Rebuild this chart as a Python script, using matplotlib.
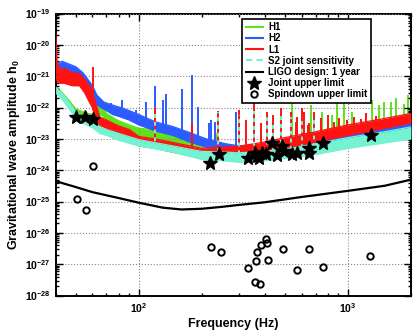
import numpy as np
import matplotlib
matplotlib.use('Agg')
import matplotlib.pyplot as plt
from matplotlib.lines import Line2D
from matplotlib.ticker import FixedLocator, FixedFormatter, LogLocator, NullFormatter

plt.rcParams['font.family'] = ['Liberation Sans', 'DejaVu Sans']
plt.rcParams['font.weight'] = 'bold'
plt.rcParams['mathtext.fontset'] = 'custom'
plt.rcParams['mathtext.rm'] = 'Liberation Sans:bold'
plt.rcParams['mathtext.it'] = 'Liberation Sans:bold'
plt.rcParams['mathtext.bf'] = 'Liberation Sans:bold'
plt.rcParams['mathtext.sf'] = 'Liberation Sans:bold'

# ---------------- data ----------------
# L1 (red) noise band
l1_f  = [40, 40.6, 42, 44, 48, 52, 55, 58, 60, 62, 65, 70, 80, 90, 100, 120, 150, 200, 250, 300, 400, 500, 700, 1000, 1500, 2000]
l1_lo = [1.5e-21, 7e-22, 6e-22, 6e-22, 5e-22, 5e-22, 3e-22, 1.5e-22, 1e-22, 4e-23, 2.5e-23, 2e-23, 1.4e-23, 1.1e-23, 6e-24,
         5e-24, 3.6e-24, 2.5e-24, 2.7e-24, 2.8e-24, 3.6e-24, 5e-24, 8e-24, 1.3e-23, 2.2e-23, 3.2e-23]
l1_hi = [2.5e-20, 3e-21, 1.6e-21, 1.8e-21, 1.3e-21, 1.2e-21, 8e-22, 5e-22, 3e-22, 1.5e-22, 5e-23, 4e-23, 2.6e-23, 2e-23, 1.2e-23,
         1e-23, 7.4e-24, 5e-24, 5.5e-24, 5.8e-24, 8e-24, 1.1e-23, 1.7e-23, 2.8e-23, 4.5e-23, 6.5e-23]
l1_spike_f = [60.4, 119, 180, 238, 302, 325, 355, 384, 412, 440, 477, 532, 564, 573, 606, 617, 641, 652, 688, 743,
              800, 855, 905, 990, 1067, 1150, 1220, 1370]
l1_spike_h = [2e-21, 1e-22, 3e-23, 8e-23, 8.4e-23, 4e-23, 1.37e-22, 3.2e-23, 7.4e-23, 6e-23, 9.5e-23, 7.4e-23, 3.5e-23,
              5.1e-23, 9.5e-23, 7.4e-23, 2.8e-23, 3.2e-23, 7e-23, 4.6e-23, 5.9e-23, 3.5e-23, 4.5e-23, 4e-23, 5e-23,
              4.2e-23, 6.6e-23, 5.5e-23]

# H2 (blue) noise band
h2_f  = [40, 43, 46, 50, 54, 57, 60, 63, 68, 75, 82, 90, 100, 120, 145, 175, 210, 260, 300, 400, 500, 700, 1000, 1500, 2000]
h2_lo = [1.2e-21, 1.8e-21, 1.3e-21, 1e-21, 6e-22, 4e-22, 2e-22, 1.2e-22, 9e-23, 6e-23, 5e-23, 4e-23, 2.8e-23, 1.8e-23,
         1.3e-23, 8e-24, 5.5e-24, 4.2e-24, 3.5e-24, 3.5e-24, 4.5e-24, 7e-24, 1e-23, 1.6e-23, 2.2e-23]
h2_hi = [2.5e-21, 3e-21, 2.5e-21, 2e-21, 1.3e-21, 8e-22, 5e-22, 2.5e-22, 1.5e-22, 1.2e-22, 1e-22, 8e-23, 6e-23, 3.5e-23,
         2.5e-23, 1.6e-23, 1e-23, 7e-24, 6e-24, 6.5e-24, 8.5e-24, 1.3e-23, 2e-23, 3.2e-23, 4.2e-23]
h2_spike_f = [73.5, 83, 97, 108, 119, 130, 135, 161, 180, 191, 217, 221, 231, 291, 302]
h2_spike_h = [1.4e-22, 1.75e-22, 8.4e-23, 1.5e-22, 4.9e-22, 1.8e-22, 2.8e-22, 3.8e-22, 1.1e-21, 1.06e-22, 3.2e-23,
              4e-23, 3.5e-23, 7.4e-23, 3.5e-23]

# H1 (green) noise band
h1_f  = [40, 43, 46, 50, 55, 60, 63, 66, 70, 80, 90, 100, 125, 150, 200, 250, 300, 400, 500, 700, 1000, 1500, 2000]
h1_lo = [3.5e-22, 2e-22, 1.2e-22, 5.5e-23, 4e-23, 3.5e-23, 5e-23, 6e-23, 4e-23, 2.2e-23, 1.7e-23, 1.3e-23, 1e-23, 7e-24,
         5.5e-24, 4e-24, 3.5e-24, 4e-24, 4.5e-24, 7e-24, 1.1e-23, 1.8e-23, 2.6e-23]
h1_hi = [5e-22, 3e-22, 1.8e-22, 9e-23, 7e-23, 6e-23, 1e-22, 1.2e-22, 6.5e-23, 3.8e-23, 2.8e-23, 2.2e-23, 1.9e-23, 1.3e-23,
         1e-23, 7e-24, 6e-24, 7e-24, 9e-24, 1.4e-23, 2.2e-23, 3.6e-23, 5e-23]
h1_spike_f = [234, 436, 543, 664, 754, 841, 887, 957, 1049, 1305, 1405, 1485, 1599, 1690, 1849, 1930]
h1_spike_h = [1.5e-23, 3.5e-23, 1.8e-22, 1.2e-22, 7e-23, 6e-23, 1.4e-22, 1.5e-22, 7e-23, 1.7e-22, 1.2e-22, 1.5e-22,
              1.5e-22, 2e-22, 1.3e-22, 2.5e-22]

# S2 joint sensitivity (cyan) band
s2_f  = [40, 43, 46, 50, 55, 60, 65, 70, 80, 100, 145, 200, 260, 300, 400, 530, 700, 1000, 1500, 2000]
s2_lo = [3e-22, 1.8e-22, 1e-22, 4.5e-23, 3e-23, 2.3e-23, 1.5e-23, 1.3e-23, 9e-24, 6e-24, 3.8e-24, 2.2e-24, 2e-24,
         1.8e-24, 2e-24, 2.5e-24, 3.2e-24, 5e-24, 7.5e-24, 1e-23]
s2_hi = [4.5e-22, 2.8e-22, 1.6e-22, 7e-23, 5e-23, 3.8e-23, 2.5e-23, 2e-23, 1.5e-23, 9.5e-24, 6e-24, 4e-24, 3.8e-24,
         3.6e-24, 4e-24, 5e-24, 7e-24, 1.1e-23, 1.7e-23, 2.4e-23]
s2_spike_f = [119, 238, 302, 355, 412, 436, 477, 532, 606, 688]
s2_spike_h = [8e-23, 7e-23, 6e-23, 8e-23, 5e-23, 3.5e-23, 6e-23, 5e-23, 5e-23, 4e-23]

# LIGO design sensitivity, 1 year
design_f = [40, 50, 60, 80, 100, 130, 160, 200, 250, 300, 400, 600, 1000, 1500, 2000]
design_h = [4.5e-25, 2.9e-25, 2.0e-25, 1.3e-25, 9.2e-26, 6.4e-26, 5.6e-26, 5.9e-26, 6.8e-26, 7.8e-26, 9.5e-26,
            1.4e-25, 2.2e-25, 3.2e-25, 5.0e-25]

# Joint upper limits (stars)
star_f = [50.3, 55.5, 60.4, 219.6, 240.6, 334, 360, 369, 376, 390, 405, 432, 457, 486, 495, 542, 573, 651, 651, 760, 1283]
star_h = [4.9e-23, 5.1e-23, 4.4e-23, 1.7e-24, 3.2e-24, 2.5e-24, 3.6e-24, 2.8e-24, 2.4e-24, 3.5e-24, 3.2e-24, 7.6e-24,
          3.1e-24, 5.9e-24, 4e-24, 3.2e-24, 3.5e-24, 5e-24, 3.6e-24, 7.2e-24, 1.33e-23]

# Spindown upper limits (circles)
circ_f = [60.4, 50.6, 55.7, 221, 246, 332, 360, 379, 364, 367, 386, 405, 412, 416, 490, 571, 654, 760, 1277]
circ_h = [1.39e-24, 1.17e-25, 5.2e-26, 3.6e-27, 2.4e-27, 7.4e-28, 2.7e-28, 2.27e-28, 1.23e-27, 2.45e-27, 4.1e-27,
          6.2e-27, 4.7e-27, 1.4e-27, 3.1e-27, 6.4e-28, 3.0e-27, 7.9e-28, 1.78e-27]

y_exponents = [-28, -27, -26, -25, -24, -23, -22, -21, -20, -19]
x_exponents = [2, 3]

labels = ['H1', 'H2', 'L1', 'S2 joint sensitivity', 'LIGO design: 1 year', 'Joint upper limit', 'Spindown upper limit']

c_h1, c_h2, c_l1, c_s2 = '#5ee21a', '#2c5cff', '#ff1212', '#74f2d2'

# ---------------- figure ----------------
fig = plt.figure(figsize=(4.15, 3.31), dpi=100)
ax = fig.add_axes([0.134, 0.107, 0.856, 0.852])
ax.set_xscale('log')
ax.set_yscale('log')


def band(f, lo, hi, color, z):
    ax.fill_between(f, lo, hi, color=color, lw=0, zorder=z)
    ax.plot(f, lo, color=color, lw=0.9, zorder=z)
    ax.plot(f, hi, color=color, lw=0.9, zorder=z)


def spikes(sf, sh, f, lo, color, z, ls='-'):
    base = 10 ** np.interp(np.log10(sf), np.log10(f), np.log10(lo))
    ax.vlines(sf, base, sh, colors=color, lw=1.4, zorder=z, linestyles=ls)


band(h1_f, h1_lo, h1_hi, c_h1, 2)
spikes(h1_spike_f, h1_spike_h, h1_f, h1_lo, c_h1, 2)
band(h2_f, h2_lo, h2_hi, c_h2, 3)
spikes(h2_spike_f, h2_spike_h, h2_f, h2_lo, c_h2, 3)
band(l1_f, l1_lo, l1_hi, c_l1, 4)
spikes(l1_spike_f, l1_spike_h, l1_f, l1_lo, c_l1, 4)
band(s2_f, s2_lo, s2_hi, c_s2, 5)
spikes(s2_spike_f, s2_spike_h, s2_f, s2_lo, c_s2, 5, ls=(0, (2, 2)))

ax.plot(design_f, design_h, color='black', lw=1.6, zorder=6)
ax.plot(star_f, star_h, ls='none', marker='*', ms=10, color='black', zorder=7)
ax.plot(circ_f, circ_h, ls='none', marker='o', ms=4.6, mfc='none', mec='black', mew=1.4, zorder=7)

ax.set_xlim(40, 2000)
ax.set_ylim(1e-28, 1e-19)

yt = [10.0 ** e for e in y_exponents]
ax.yaxis.set_major_locator(FixedLocator(yt))
ax.yaxis.set_major_formatter(FixedFormatter([r'$10^{%d}$' % e for e in y_exponents]))
ax.yaxis.set_minor_locator(LogLocator(base=10, subs=np.arange(2, 10), numticks=50))
ax.yaxis.set_minor_formatter(NullFormatter())
xt = [10.0 ** e for e in x_exponents]
ax.xaxis.set_major_locator(FixedLocator(xt))
ax.xaxis.set_major_formatter(FixedFormatter([r'$10^{%d}$' % e for e in x_exponents]))
ax.xaxis.set_minor_locator(LogLocator(base=10, subs=np.arange(2, 10), numticks=50))
ax.xaxis.set_minor_formatter(NullFormatter())

ax.tick_params(which='both', direction='in', top=True, right=True, width=1.0, labelsize=7.5)
ax.tick_params(which='major', length=5)
ax.tick_params(which='minor', length=2.5)
ax.tick_params(axis='x', pad=4)
for s in ax.spines.values():
    s.set_linewidth(1.4)
ax.grid(True, which='major', ls=':', color='#888888', lw=0.8)
ax.set_axisbelow(False)

ax.set_xlabel('Frequency (Hz)', fontsize=9, fontweight='bold', labelpad=2)
ax.set_ylabel(r'Gravitational wave amplitude h$_0$', fontsize=9, fontweight='bold', labelpad=2)

handles = [Line2D([], [], color=c_h1, lw=1.5),
           Line2D([], [], color=c_h2, lw=1.5),
           Line2D([], [], color=c_l1, lw=1.5),
           Line2D([], [], color=c_s2, lw=1.5, ls=(0, (3, 2))),
           Line2D([], [], color='black', lw=1.5),
           Line2D([], [], ls='none', marker='*', ms=10, color='black'),
           Line2D([], [], ls='none', marker='o', ms=4.6, mfc='none', mec='black', mew=1.4)]
leg = ax.legend(handles, labels, loc='upper right', bbox_to_anchor=(0.887, 0.981), fontsize=7,
                frameon=True, fancybox=False, framealpha=1, edgecolor='black', labelspacing=0.12,
                handlelength=1.75, handletextpad=0.55, borderpad=0.35, borderaxespad=0)
leg.get_frame().set_linewidth(1.2)
leg.set_zorder(10)

fig.savefig('out.png', dpi=100)
